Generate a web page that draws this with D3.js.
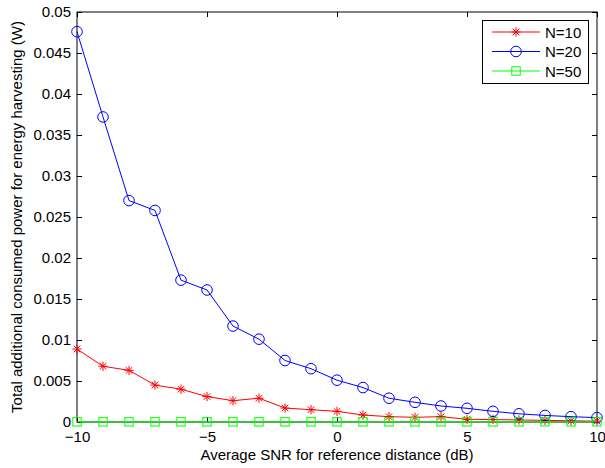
<!DOCTYPE html>
<html>
<head>
<meta charset="utf-8">
<script src="https://cdn.jsdelivr.net/npm/d3@7"></script>
<style>
  body { margin: 0; background: #fff; }
  svg text { font-family: "Liberation Sans", Arial, sans-serif; }
</style>
</head>
<body>
<svg id="chart" width="605" height="468"></svg>
<script>
// SNR values (dB)
const snr = d3.range(-10, 11, 1);
const xTicks = [-10, -5, 0, 5, 10];
const yTicks = [0, 0.005, 0.01, 0.015, 0.02, 0.025, 0.03, 0.035, 0.04, 0.045, 0.05];

const n10 = [0.0089, 0.0068, 0.0063, 0.0045, 0.0040, 0.0031, 0.0026, 0.0029, 0.0017, 0.0015,
             0.0013, 0.00085, 0.00065, 0.00057, 0.00065, 0.00033, 0.0003, 0.00025, 0.0002, 0.00015, 0.0001];
const n20 = [0.0476, 0.0372, 0.0270, 0.0258, 0.0173, 0.0161, 0.0117, 0.0101, 0.0075, 0.0065,
             0.0051, 0.0042, 0.0029, 0.0024, 0.00195, 0.00167, 0.0013, 0.0010, 0.0008, 0.00065, 0.00053];
const n50 = [0.00002, 0.00002, 0.00002, 0.00002, 0.00002, 0.00002, 0.00002, 0.00002, 0.00002, 0.00002,
             0.00002, 0.00002, 0.00002, 0.00002, 0.00002, 0.00002, 0.00002, 0.00002, 0.00002, 0.00002, 0.00002];

const seriesNames = ['N=10', 'N=20', 'N=50'];
const seriesColors = ['#ff0000', '#0000ff', '#00ff00'];
const seriesMarkers = ['star', 'circle', 'square'];
const seriesValues = [n10, n20, n50];

const svg = d3.select('#chart');
const mLeft = 77, mRight = 597, mTop = 12, mBottom = 422;
const fs = 15;

const x = d3.scaleLinear().domain([-10, 10]).range([mLeft, mRight]);
const y = d3.scaleLinear().domain([0, 0.05]).range([mBottom, mTop]);

const fmtY = d => d === 0 ? '0' : String(+d.toFixed(3));
const fmtX = d => d < 0 ? '\u2212' + Math.abs(d) : String(d);

// matlab style ticks pointing in, on all four sides
svg.append('g').attr('transform', `translate(0,${mBottom})`)
  .call(d3.axisBottom(x).tickValues(xTicks).tickSizeInner(-5).tickSizeOuter(0).tickPadding(9).tickFormat(fmtX));
svg.append('g').attr('transform', `translate(0,${mTop})`)
  .call(d3.axisTop(x).tickValues(xTicks).tickSizeInner(-5).tickSizeOuter(0).tickFormat(''));
svg.append('g').attr('transform', `translate(${mLeft},0)`)
  .call(d3.axisLeft(y).tickValues(yTicks).tickSizeInner(-5).tickSizeOuter(0).tickPadding(6).tickFormat(fmtY));
svg.append('g').attr('transform', `translate(${mRight},0)`)
  .call(d3.axisRight(y).tickValues(yTicks).tickSizeInner(-5).tickSizeOuter(0).tickFormat(''));

svg.selectAll('.domain').remove();
svg.selectAll('.tick line').attr('stroke', '#000');
svg.selectAll('.tick text').attr('font-size', fs).attr('fill', '#000');

svg.append('rect')
  .attr('x', mLeft).attr('y', mTop)
  .attr('width', mRight - mLeft).attr('height', mBottom - mTop)
  .attr('fill', 'none').attr('stroke', '#000').attr('stroke-width', 1);

function drawMarker(g, type, color, cx, cy) {
  if (type === 'circle') {
    g.append('circle').attr('cx', cx).attr('cy', cy).attr('r', 5.3)
      .attr('fill', 'none').attr('stroke', color).attr('stroke-width', 1);
  } else if (type === 'square') {
    g.append('rect').attr('x', cx - 4.2).attr('y', cy - 4.2).attr('width', 8.4).attr('height', 8.4)
      .attr('fill', 'none').attr('stroke', color).attr('stroke-width', 1);
  } else {
    const s = 4.6, d = 3.3;
    const p = `M${cx - s},${cy}L${cx + s},${cy}M${cx},${cy - s}L${cx},${cy + s}` +
      `M${cx - d},${cy - d}L${cx + d},${cy + d}M${cx - d},${cy + d}L${cx + d},${cy - d}`;
    g.append('path').attr('d', p).attr('stroke', color).attr('stroke-width', 1).attr('fill', 'none');
  }
}

const line = d3.line().x(d => x(d[0])).y(d => y(d[1]));

seriesValues.forEach((vals, i) => {
  const pts = snr.map((s, j) => [s, vals[j]]);
  const g = svg.append('g');
  g.append('path').attr('d', line(pts))
    .attr('fill', 'none').attr('stroke', seriesColors[i]).attr('stroke-width', 1);
  pts.forEach(p => drawMarker(g, seriesMarkers[i], seriesColors[i], x(p[0]), y(p[1])));
});

// legend
const lg = svg.append('g');
lg.append('rect').attr('x', 482.5).attr('y', 20.5).attr('width', 106).attr('height', 63)
  .attr('fill', '#fff').attr('stroke', '#000');
seriesNames.forEach((name, i) => {
  const ly = 32 + i * 19.5;
  lg.append('line').attr('x1', 492).attr('x2', 540).attr('y1', ly).attr('y2', ly)
    .attr('stroke', seriesColors[i]);
  drawMarker(lg, seriesMarkers[i], seriesColors[i], 516, ly);
  lg.append('text').attr('x', 545).attr('y', ly + 5.5).attr('font-size', fs).text(name);
});

// axis titles
svg.append('text').attr('x', (mLeft + mRight) / 2).attr('y', 460)
  .attr('text-anchor', 'middle').attr('font-size', fs)
  .text('Average SNR for reference distance (dB)');
svg.append('text')
  .attr('transform', `translate(22,${(mTop + mBottom) / 2}) rotate(-90)`)
  .attr('text-anchor', 'middle').attr('font-size', fs)
  .text('Total additional consumed power for energy harvesting (W)');
</script>
</body>
</html>
